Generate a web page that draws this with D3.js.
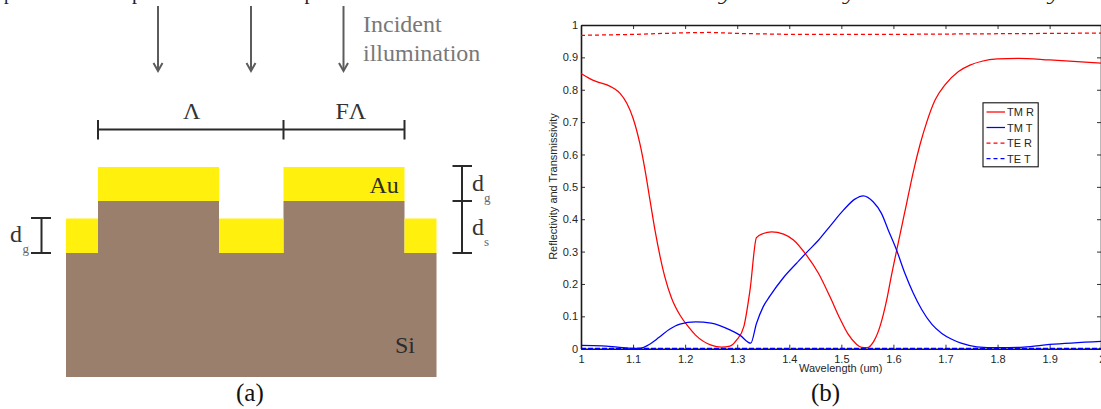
<!DOCTYPE html>
<html><head><meta charset="utf-8">
<script src="https://cdn.jsdelivr.net/npm/d3@7"></script>
<style>html,body{margin:0;padding:0;background:#fff;overflow:hidden}svg{display:block}</style>
</head><body><svg id="c" width="1101" height="409"></svg>
<script>
// ---- chart (b) data ----
const tmRX=[1,1.015,1.03,1.05,1.065,1.075,1.088,1.1,1.113,1.123,1.1325,1.142,1.152,1.161,1.174,1.19,1.206,1.22,1.25,1.27,1.286,1.299,1.313,1.3246,1.337,1.35,1.366,1.389,1.408,1.433,1.456,1.478,1.497,1.513,1.529,1.539,1.549,1.563,1.575,1.587,1.597,1.606,1.616,1.6255,1.638,1.651,1.664,1.68,1.699,1.725,1.747,1.77,1.8,1.84,1.9,2];
const tmRY=[.85,.836,.825,.815,.802,.789,.758,.712,.634,.552,.459,.367,.284,.222,.156,.104,.068,.042,.011,.005,.008,.027,.07,.181,.343,.356,.361,.354,.336,.289,.233,.161,.094,.045,.014,.004,.003,.025,.073,.15,.233,.302,.378,.45,.545,.63,.7,.768,.815,.856,.876,.888,.895,.897,.892,.882];
const tmTX=[1,1.04,1.07,1.1,1.115,1.13,1.15,1.17,1.19,1.22,1.25,1.286,1.305,1.326,1.337,1.35,1.363,1.389,1.414,1.433,1.456,1.478,1.504,1.526,1.542,1.561,1.577,1.59,1.606,1.622,1.638,1.654,1.674,1.693,1.712,1.73,1.76,1.8,1.85,1.9,2];
const tmTY=[.01,.009,.005,.001,.002,.012,.035,.06,.076,.083,.079,.058,.042,.017,.078,.13,.163,.22,.264,.297,.335,.378,.428,.462,.472,.454,.418,.367,.305,.233,.172,.122,.075,.047,.029,.017,.006,.003,.005,.013,.023];
const teRX=[1,1.1,1.2,1.25,1.3,1.4,1.5,1.6,1.7,1.8,1.9,2];
const teRY=[.968,.971,.976,.977,.974,.971,.971,.971,.972,.973,.974,.975];
const teTX=[1,2];
const teTY=[0,0];
const xTicks=[1,1.1,1.2,1.3,1.4,1.5,1.6,1.7,1.8,1.9,2];
const yTicks=[0,.1,.2,.3,.4,.5,.6,.7,.8,.9,1];
const legendLabels=["TM R","TM T","TE R","TE T"];
const seriesColors=["#ff0000","#0000ff","#ff0000","#0000ff"];
const seriesDash=[null,null,"4 3","4 3"];

const svg=d3.select("#c");
const SERIF="'Liberation Serif','Times New Roman',serif", SANS="'Liberation Sans',Arial,sans-serif";
const txt=(s,x,y,size,fill,fam=SERIF)=>svg.append("text").attr("x",x).attr("y",y).attr("font-family",fam).attr("font-size",size).attr("fill",fill).text(s);

// clipped running text at the top of the page
[["ptimized here to",4,124],["produce the desired spectral",132,228],["characteristics for the cavity",362,372],["formed by the two metal layers.",738,363]]
 .forEach(([s,x,w])=>txt(s,x,0,19,"#222").attr("textLength",w).attr("lengthAdjust","spacingAndGlyphs"));

// ---- diagram (a) ----
svg.append("defs").append("filter").attr("id","soft").append("feGaussianBlur").attr("stdDeviation",.35);
const a=svg.append("g").attr("filter","url(#soft)");
const rect=(x0,x1,y0,y1,fill)=>a.append("rect").attr("x",x0).attr("y",y0).attr("width",x1-x0).attr("height",y1-y0).attr("fill",fill);
const seg=(x0,y0,x1,y1,c,w)=>a.append("line").attr("x1",x0).attr("y1",y0).attr("x2",x1).attr("y2",y1).attr("stroke",c).attr("stroke-width",w);
const YEL="#fff00e", BRN="#9b7f6d", DIM="#2c2c2c";
rect(66,436.5,253,377,BRN);
rect(98,219,201,253,BRN); rect(283.5,404.5,201,253,BRN);
rect(98,219,167,201,YEL); rect(283.5,404.5,167,201,YEL);
rect(66,98,218.5,253,YEL); rect(219,283.5,218.5,253,YEL); rect(404.5,436.5,218.5,253,YEL);
[158,251,343.5].forEach(x=>{
  seg(x,6,x,70,"#5c5c5c",2);
  a.append("path").attr("d",`M${x-4.5},${63} L${x},${71} L${x+4.5},${63}`).attr("fill","none").attr("stroke","#5c5c5c").attr("stroke-width",2);
});
seg(98,129.5,404.5,129.5,DIM,2);
[98,283.5,404.5].forEach(x=>seg(x,120,x,139.5,DIM,2));
seg(462,166,462,253,DIM,2);
[166,201,253].forEach(y=>seg(452.5,y,472,y,DIM,2));
seg(41.5,218,41.5,253,DIM,2);
[218,253].forEach(y=>seg(31,y,51,y,DIM,2));
txt("Incident",363,32,24,"#787878"); txt("illumination",363,61,24,"#787878");
txt("Λ",183,119,24,"#333"); txt("FΛ",335.5,119,24,"#333");
txt("Au",369.5,193,24,"#2c2c2c"); txt("Si",395,353,24,"#2c2c2c");
txt("d",472,191,24,"#333"); txt("g",484,202,13,"#666");
txt("d",472,235,24,"#333"); txt("s",484,246,13,"#666");
txt("d",10,242,24,"#333"); txt("g",22.5,253,13,"#666");
txt("(a)",236,401,25,"#111"); txt("(b)",811,401,25,"#111");

// ---- chart (b) ----
const x=d3.scaleLinear().domain([1,2]).range([581,1101.7]);
const y=d3.scaleLinear().domain([0,1]).range([348.7,25]);
const g=svg.append("g");
const line=d3.line().x(d=>x(d[0])).y(d=>y(d[1]));
const smooth=d3.line().curve(d3.curveMonotoneX).x(d=>x(d[0])).y(d=>y(d[1]));
const zipS=(a,b)=>a.map((v,i)=>[v,b[i]]);
const series=[zipS(tmRX,tmRY),zipS(tmTX,tmTY),zipS(teRX,teRY),zipS(teTX,teTY)];

function style(sel){
  sel.select(".domain").attr("stroke","#1a1a1a").attr("stroke-width",1.6);
  sel.selectAll(".tick line").attr("stroke","#1a1a1a").attr("stroke-width",.9);
  sel.selectAll("text").attr("font-family",SANS).attr("font-size",11).attr("fill","#262626");
}
const fmt=d=>String(+d.toFixed(1));
g.append("g").attr("transform",`translate(0,${y(0)})`).call(d3.axisBottom(x).tickValues(xTicks).tickFormat(fmt).tickSize(-4).tickSizeOuter(0).tickPadding(7)).call(style);
g.append("g").attr("transform",`translate(0,${y(1)})`).call(d3.axisTop(x).tickValues(xTicks).tickFormat("").tickSize(-4).tickSizeOuter(0)).call(style);
g.append("g").attr("transform",`translate(${x(1)},0)`).call(d3.axisLeft(y).tickValues(yTicks).tickFormat(fmt).tickSize(-4).tickSizeOuter(0).tickPadding(3)).call(style);
g.append("g").attr("transform",`translate(${x(2)-.7},0)`).call(d3.axisRight(y).tickValues(yTicks).tickFormat("").tickSize(-4).tickSizeOuter(0)).call(style);

series.forEach((d,i)=>{
  g.append("path").attr("d",(i<2?smooth:line)(d)).attr("fill","none").attr("stroke",seriesColors[i]).attr("stroke-width",i===3?2:1.25).attr("stroke-dasharray",i===3?"5 2":seriesDash[i]);
});

txt("Wavelength (um)",799,372,11,"#262626",SANS);
txt("Reflectivity and Transmissivity",0,0,11,"#262626",SANS).attr("text-anchor","middle").attr("transform","translate(557,186.5) rotate(-90)");

// legend
const L=g.append("g");
L.append("rect").attr("x",983).attr("y",102.8).attr("width",55.2).attr("height",64).attr("fill","#fff").attr("stroke","#111").attr("stroke-width",1.1);
legendLabels.forEach((s,i)=>{
  const yy=112+i*15.5;
  L.append("line").attr("x1",986.5).attr("x2",1005).attr("y1",yy).attr("y2",yy).attr("stroke",seriesColors[i]).attr("stroke-width",1.25).attr("stroke-dasharray",seriesDash[i]);
  L.append("text").attr("x",1007).attr("y",yy+4).attr("font-family",SANS).attr("font-size",11).attr("fill","#262626").text(s);
});
</script></body></html>
